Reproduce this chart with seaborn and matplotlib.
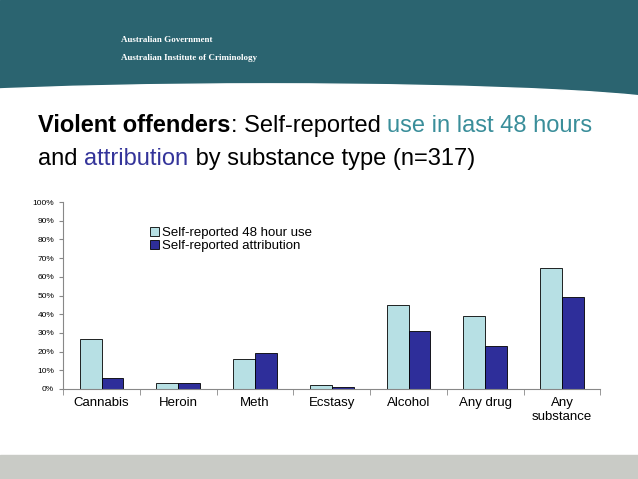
import matplotlib
matplotlib.use("Agg")
import matplotlib.pyplot as plt
import seaborn as sns
import pandas as pd
from matplotlib.patches import Rectangle, Ellipse

categories = ["Cannabis", "Heroin", "Meth", "Ecstasy", "Alcohol", "Any drug", "Any\nsubstance"]
use_48h = [27, 3, 16, 2, 45, 39, 65]
attribution = [6, 3, 19, 1, 31, 23, 49]
series = ["Self-reported 48 hour use", "Self-reported attribution"]
yticks = [0, 10, 20, 30, 40, 50, 60, 70, 80, 90, 100]

df = pd.DataFrame({
    "cat": categories * 2,
    "val": use_48h + attribution,
    "series": [series[0]] * len(categories) + [series[1]] * len(categories),
})

fig = plt.figure(figsize=(6.38, 4.79), dpi=100)
fig.patch.set_facecolor("white")
renderer = fig.canvas.get_renderer()

# header band
fig.add_artist(Rectangle((0, 0.80), 1, 0.20, transform=fig.transFigure, color="#2b6470", zorder=0))
fig.add_artist(Ellipse((0.42, 0.78), 1.3, 0.09, transform=fig.transFigure, color="white", zorder=1))
fig.text(0.19, 0.912, "Australian Government", fontsize=6.5, color="white", fontweight="bold", family="Liberation Serif")
fig.text(0.19, 0.875, "Australian Institute of Criminology", fontsize=6.5, color="white", fontweight="bold", family="Liberation Serif")
# footer band
fig.add_artist(Rectangle((0, 0), 1, 0.05, transform=fig.transFigure, color="#c9cbc6", zorder=0))

def line(x, y, parts):
    for txt, color, weight in parts:
        t = fig.text(x, y, txt, fontsize=17, color=color, fontweight=weight, family="Liberation Sans")
        bb = t.get_window_extent(renderer=renderer)
        x += bb.width / fig.bbox.width

line(0.06, 0.725, [("Violent offenders", "black", "bold"), (": Self-reported ", "black", "normal"),
                   ("use in last 48 hours", "#3a8e9a", "normal")])
line(0.06, 0.655, [("and ", "black", "normal"), ("attribution", "#34349a", "normal"),
                   (" by substance type (n=317)", "black", "normal")])

ax = fig.add_axes([0.099, 0.188, 0.842, 0.39])
ax.set_facecolor("none")
sns.barplot(data=df, x="cat", y="val", hue="series", palette=["#b7e0e4", "#2e2e9a"], saturation=1,
            edgecolor="black", linewidth=0.6, width=0.57, ax=ax)
ax.set_ylim(0, 100)
ax.set_yticks(yticks)
ax.set_yticklabels([f"{t}%" for t in yticks], fontsize=6, family="Liberation Sans")
ax.set_xlim(-0.5, len(categories) - 0.5)
ax.set_xticks([i - 0.5 for i in range(len(categories) + 1)], minor=True)
ax.tick_params(axis="x", which="major", length=0, labelsize=9.5, pad=6)
ax.tick_params(axis="x", which="minor", length=4, color="#888888")
ax.tick_params(axis="y", length=3, color="#888888")
for lab in ax.get_xticklabels():
    lab.set_family("Liberation Sans")
ax.set_xlabel("")
ax.set_ylabel("")
for s in ["top", "right"]:
    ax.spines[s].set_visible(False)
for s in ["left", "bottom"]:
    ax.spines[s].set_color("#888888")
    ax.spines[s].set_linewidth(0.8)
leg = ax.legend(loc="upper left", bbox_to_anchor=(0.14, 0.93), frameon=False,
                handlelength=0.7, handleheight=0.7, handletextpad=0.2, labelspacing=0.05,
                prop={"family": "Liberation Sans", "size": 9.5})

fig.savefig("out.png", dpi=100)
